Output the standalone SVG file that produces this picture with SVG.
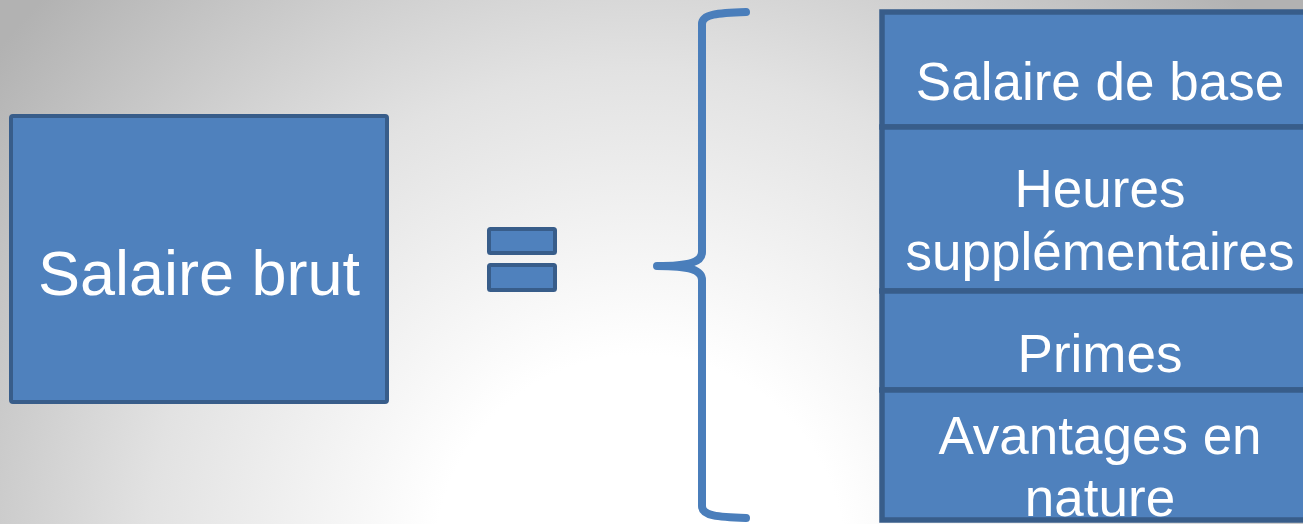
<svg xmlns="http://www.w3.org/2000/svg" width="1303" height="524" viewBox="0 0 1303 524">
<style>
.box{fill:#4f81bd;stroke:#385d8a;stroke-width:4}
.rb{stroke-width:5.5}
.lbl{fill:#ffffff;font-family:"Liberation Sans",Arial,sans-serif;text-anchor:middle}
.brace{fill:none;stroke:#4a7ebb;stroke-width:8;stroke-linecap:round;stroke-linejoin:round}
</style>
<defs>
<radialGradient id="bg" gradientUnits="userSpaceOnUse" cx="640" cy="560" r="820">
<stop offset="0.25" stop-color="#ffffff"/>
<stop offset="0.6" stop-color="#e2e2e2"/>
<stop offset="1" stop-color="#b2b2b2"/>
</radialGradient>
</defs>
<rect x="0" y="0" width="1303" height="524" fill="url(#bg)"/>
<g id="salaire-brut">
<rect class="box" x="11" y="116" width="376" height="286" rx="2"/>
<text class="lbl" x="199" y="295" font-size="63">Salaire brut</text>
</g>
<g id="egal">
<rect class="box" x="489" y="229" width="66" height="24" rx="1.5" stroke-width="4"/>
<rect class="box" x="489" y="265" width="66" height="25" rx="1.5" stroke-width="4"/>
</g>
<g id="connectors">
<path class="brace" d="M746,12 C718,13 702,14 702,24 L702,252 C702,262 690,266 657,266 C690,266 702,270 702,280 L702,506 C702,516 718,517 746,518"/>
</g>
<g id="salaire-de-base">
<rect class="box rb" x="882" y="12" width="440" height="115"/>
<text class="lbl" x="1100" y="100" font-size="53">Salaire de base</text>
</g>
<g id="heures-supplementaires">
<rect class="box rb" x="882" y="127" width="440" height="164"/>
<text class="lbl" x="1100" y="207" font-size="53">Heures</text>
<text class="lbl" x="1100" y="270" font-size="53">supplémentaires</text>
</g>
<g id="primes">
<rect class="box rb" x="882" y="291" width="440" height="99"/>
<text class="lbl" x="1100" y="372" font-size="53">Primes</text>
</g>
<g id="avantages-en-nature">
<rect class="box rb" x="882" y="390" width="440" height="130"/>
<text class="lbl" x="1100" y="454" font-size="53">Avantages en</text>
<text class="lbl" x="1100" y="516" font-size="53">nature</text>
</g>
</svg>
